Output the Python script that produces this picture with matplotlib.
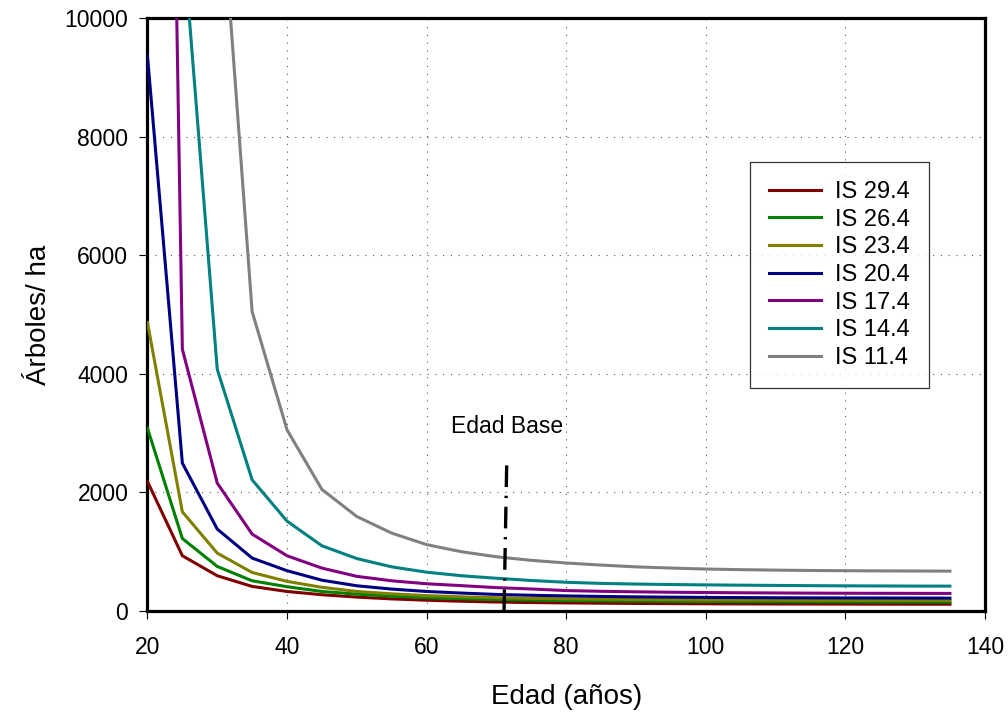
import matplotlib
matplotlib.use("Agg")
import matplotlib.pyplot as plt

plt.rcParams["font.family"] = ["Liberation Sans", "DejaVu Sans"]

# ── Datos ─────────────────────────────────────────────────────────────────────
EDAD = [20, 25, 30, 35, 40, 45, 50, 55, 60, 65, 70, 75, 80,
        85, 90, 95, 100, 105, 110, 115, 120, 125, 130, 135]

IS_29_4 = [2184, 932, 595, 415, 330, 275, 235, 205, 182, 165, 152, 143, 137,
           132, 128, 125, 122, 120, 119, 118, 117, 116, 115, 115]
IS_26_4 = [3083, 1223, 752, 510, 410, 330, 285, 250, 225, 208, 195, 185, 178,
           172, 167, 163, 160, 158, 156, 154, 153, 152, 151, 150]
IS_23_4 = [4863, 1673, 977, 650, 500, 400, 330, 290, 260, 240, 225, 214, 206,
           200, 195, 191, 188, 186, 184, 183, 182, 181, 180, 180]
IS_20_4 = [9362, 2494, 1382, 893, 680, 520, 426, 370, 330, 303, 280, 266, 255,
           246, 239, 234, 230, 227, 224, 222, 221, 220, 219, 218]
IS_17_4 = [39300, 4414, 2157, 1297, 932, 724, 585, 510, 460, 428, 395, 372, 345,
           333, 324, 317, 312, 308, 305, 302, 300, 299, 298, 297]
IS_14_4 = [45000, 11480, 4077, 2212, 1516, 1100, 885, 745, 655, 595, 553, 515, 485,
           466, 455, 447, 441, 436, 432, 428, 425, 423, 421, 420]
IS_11_4 = [150000, 40000, 13035, 5048, 3055, 2050, 1594, 1314, 1120, 1000, 915, 855, 810,
           775, 745, 725, 708, 698, 690, 684, 680, 677, 675, 673]

SERIES = [
    ("IS 29.4", IS_29_4, "#800000"),
    ("IS 26.4", IS_26_4, "#008000"),
    ("IS 23.4", IS_23_4, "#808000"),
    ("IS 20.4", IS_20_4, "#000080"),
    ("IS 17.4", IS_17_4, "#800080"),
    ("IS 14.4", IS_14_4, "#008080"),
    ("IS 11.4", IS_11_4, "#808080"),
]

EDAD_BASE_X = [71.1, 71.5]
EDAD_BASE_Y = [0, 2600]

X_TICKS = [20, 40, 60, 80, 100, 120, 140]
Y_TICKS = [0, 2000, 4000, 6000, 8000, 10000]

# ── Figura ────────────────────────────────────────────────────────────────────
fig = plt.figure(figsize=(10.08, 7.13), dpi=100)
ax = fig.add_axes([0.1463, 0.143, 0.8307, 0.8318])

for label, vals, color in SERIES:
    ax.plot(EDAD, vals, color=color, linewidth=2.2, label=label, zorder=3)

ax.plot(EDAD_BASE_X, EDAD_BASE_Y, color="black", linewidth=2.4,
        linestyle=(0, (6.5, 2.6, 0.7, 2.6)), zorder=4)
ax.text(71.5, 3120, "Edad Base", ha="center", va="center", fontsize=16.5)

ax.set_xlim(20, 140)
ax.set_ylim(0, 10000)
ax.set_xticks(X_TICKS)
ax.set_yticks(Y_TICKS)
ax.tick_params(axis="both", direction="out", length=5.8, width=0.8,
               labelsize=16.5, color="black")
ax.tick_params(axis="x", pad=12)
ax.tick_params(axis="y", pad=8)

ax.grid(True, color="#555555", linewidth=0.8, linestyle=(0, (1, 6)), zorder=1)
ax.set_axisbelow(True)

for sp in ax.spines.values():
    sp.set_linewidth(2.3)
    sp.set_color("black")

ax.set_xlabel("Edad (años)", fontsize=20, labelpad=18)
ax.set_ylabel("Árboles/ ha", fontsize=20, labelpad=9)

leg = ax.legend(loc="upper right", bbox_to_anchor=(0.933, 0.757),
                borderaxespad=0, fontsize=17, frameon=True, fancybox=False,
                handlelength=2.2, handletextpad=0.6, labelspacing=0.24,
                borderpad=0.8)
leg.get_frame().set_edgecolor("black")
leg.get_frame().set_linewidth(0.9)

fig.savefig("out.png", dpi=100)
